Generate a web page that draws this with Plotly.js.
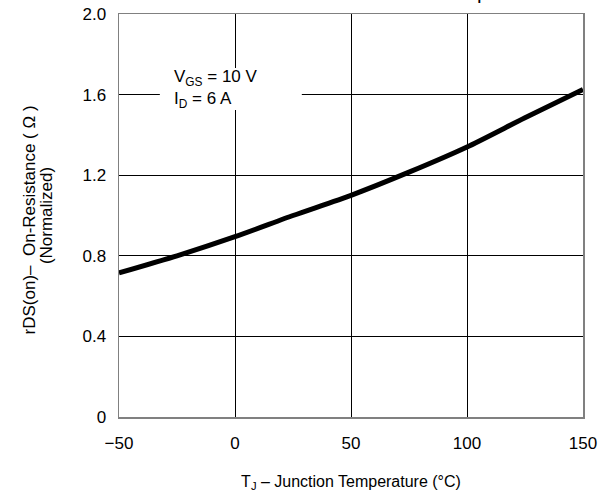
<!DOCTYPE html>
<html>
<head>
<meta charset="utf-8">
<script src="https://cdn.plot.ly/plotly-3.0.1.min.js"></script>
<style>html,body{margin:0;padding:0;background:#fff;}#chart{width:612px;height:492px;}</style>
</head>
<body>
<div id="chart"></div>
<script>
const tempC = [-50, -25, 0, 25, 50, 75, 100, 125, 150];
const rdsNorm = [0.715, 0.80, 0.895, 1.0, 1.10, 1.215, 1.34, 1.485, 1.625];
const xTicks = [-50, 0, 50, 100, 150];
const xTickLabels = ['\u221250', '0', '50', '100', '150'];
const yTicks = [0, 0.4, 0.8, 1.2, 1.6, 2.0];
const yTickLabels = ['0', '0.4', '0.8', '1.2', '1.6', '2.0'];

const font = 'Liberation Sans, Arial, Helvetica, sans-serif';

const trace = {
  x: tempC, y: rdsNorm, type: 'scatter', mode: 'lines',
  line: {color: '#000', width: 5, shape: 'spline', smoothing: 0.6},
  hoverinfo: 'skip'
};

const layout = {
  width: 612, height: 492,
  margin: {l: 119, r: 29, t: 14, b: 75},
  paper_bgcolor: '#fff', plot_bgcolor: '#fff',
  showlegend: false,
  font: {family: font, color: '#000', size: 17},
  xaxis: {
    range: [-50, 150], tickvals: xTicks, ticktext: xTickLabels,
    showgrid: true, gridcolor: '#000', gridwidth: 1,
    zeroline: false, showline: true, mirror: true, linecolor: '#808080', linewidth: 1.5,
    ticks: '', ticklen: 0, ticklabelstandoff: 10, tickfont: {size: 17, family: font},
    title: {text: 'T<sub>J</sub> \u2013 Junction Temperature (\u00b0C)', font: {size: 16, family: font}, standoff: 26}
  },
  yaxis: {
    range: [0, 2.0], tickvals: yTicks, ticktext: yTickLabels,
    showgrid: true, gridcolor: '#000', gridwidth: 1,
    zeroline: false, showline: true, mirror: true, linecolor: '#808080', linewidth: 1.5,
    ticks: '', ticklen: 0, ticklabelstandoff: 8, tickfont: {size: 17, family: font}
  },
  shapes: [
    {type: 'rect', xref: 'paper', yref: 'paper', x0: 0.088, x1: 0.394, y0: 0.762, y1: 0.866,
     fillcolor: '#fff', line: {width: 0}, layer: 'above'}
  ],
  annotations: [
    {xref: 'paper', yref: 'paper', x: -0.192, y: 0.49, xanchor: 'center', yanchor: 'middle',
     text: 'rDS(on)\u2013  On-Resistance ( \u03a9 )', textangle: -90, showarrow: false,
     font: {size: 17, family: font}},
    {xref: 'paper', yref: 'paper', x: -0.156, y: 0.5, xanchor: 'center', yanchor: 'middle',
     text: '(Normalized)', textangle: -90, showarrow: false,
     font: {size: 17, family: font}},
    {xref: 'paper', yref: 'paper', x: 0.114, y: 0.814, xanchor: 'left', yanchor: 'middle',
     text: 'V<sub>GS</sub> = 10 V<br>I<sub>D</sub> = 6 A', align: 'left', showarrow: false,
     font: {size: 17, family: font}},
    {xref: 'paper', yref: 'paper', x: 0.891, y: 1, xanchor: 'right', yanchor: 'bottom', yshift: 9,
     text: '<b>On-Resistance Variation with Temperature</b>', showarrow: false,
     font: {size: 13, family: font}}
  ]
};

Plotly.newPlot('chart', [trace], layout, {displayModeBar: false, staticPlot: true});
</script>
</body>
</html>
